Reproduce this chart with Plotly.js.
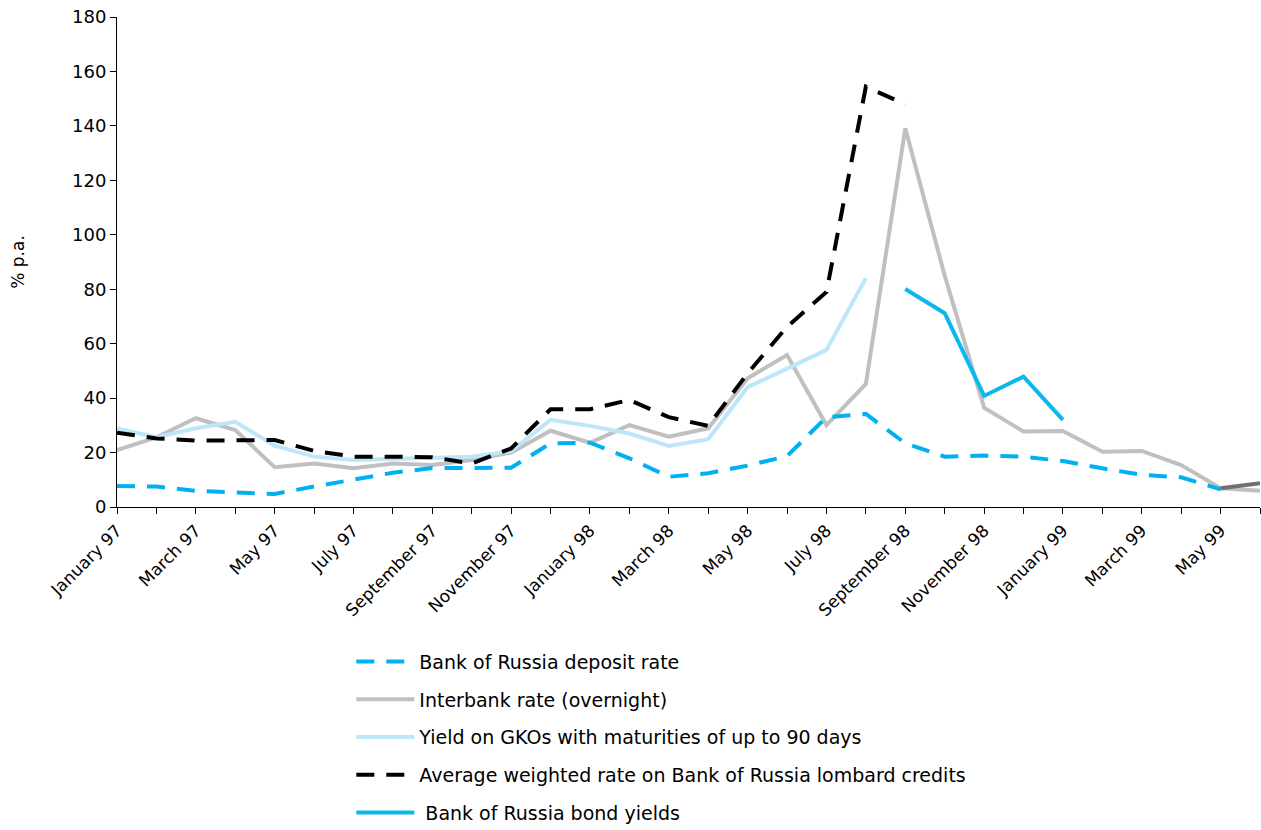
<!DOCTYPE html>
<html>
<head>
<meta charset="utf-8">
<script src="https://cdn.plot.ly/plotly-3.0.1.min.js"></script>
<style>html,body{margin:0;padding:0;background:#fff;}#chart{width:1261px;height:830px;}</style>
</head>
<body>
<div id="chart"></div>
<script>
const months = ["January 97","February 97","March 97","April 97","May 97","June 97","July 97","August 97","September 97","October 97","November 97","December 97",
  "January 98","February 98","March 98","April 98","May 98","June 98","July 98","August 98","September 98","October 98","November 98","December 98",
  "January 99","February 99","March 99","April 99","May 99","June 99"];
const tickLabels = ["January 97","","March 97","","May 97","","July 97","","September 97","","November 97","",
  "January 98","","March 98","","May 98","","July 98","","September 98","","November 98","",
  "January 99","","March 99","","May 99",""];

const depositRate = [7.7,7.5,5.9,5.3,4.8,7.5,9.9,12.6,14.3,14.3,14.4,23.4,
  23.6,17.9,11.1,12.4,15.2,18.7,33.0,34.2,23.4,18.5,18.9,18.5,
  16.9,14.2,11.8,10.9,6.5,null];
const interbankRate = [20.9,25.6,32.6,28.3,14.6,16.0,14.2,16.0,15.4,17.3,20.0,28.0,
  23.6,30.1,25.8,28.9,47.3,55.8,30.1,45.2,139.1,85.0,36.5,27.7,
  27.9,20.3,20.6,15.4,6.9,6.0];
const gkoYield = [28.9,25.6,28.9,31.3,22.5,18.5,17.3,17.6,18.0,18.5,20.5,32.0,
  29.8,27.0,22.4,24.9,44.0,51.0,57.7,84.0,null,null,null,null,
  null,null,null,null,null,null];
const lombardRate = [27.3,25.2,24.4,24.4,24.6,20.6,18.5,18.5,18.3,16.0,21.5,35.9,
  35.9,39.3,33.0,29.8,49.1,66.2,79.0,154.4,147.9,null,null,null,
  null,null,null,null,null,null];
const bondYields = [null,null,null,null,null,null,null,null,null,null,null,null,
  null,null,null,null,null,null,null,null,80.1,71.2,40.8,47.9,
  32.0,null,null,null,null,null];
const otherRate = [null,null,null,null,null,null,null,null,null,null,null,null,
  null,null,null,null,null,null,null,null,null,null,null,null,
  null,null,null,null,6.9,8.7];

const names = ["Bank of Russia deposit rate","Interbank rate (overnight)","Yield on GKOs with maturities of up to 90 days",
  "Average weighted rate on Bank of Russia lombard credits"," Bank of Russia bond yields"];

function tr(y, name, color, dash, rank, show) {
  return {x: months, y: y, name: name, type: 'scatter', mode: 'lines',
    line: {color: color, width: 4, dash: dash}, legendrank: rank, legendgroup: 'g' + rank,
    showlegend: show !== false, connectgaps: false, hoverinfo: 'skip'};
}

const data = [
  tr(interbankRate, names[1], '#c0c0c0', 'solid', 2),
  tr(gkoYield, names[2], '#bde6f8', 'solid', 3),
  tr(otherRate, 'other', '#707070', 'solid', 6, false),
  tr(lombardRate, names[3], '#000000', '18px,12px', 4),
  tr(depositRate, names[0], '#00b0f0', '18px,12px', 1),
  tr(bondYields, names[4], '#0ab8ee', 'solid', 5)
];

const layout = {
  width: 1261, height: 830,
  margin: {l: 117, r: 1, t: 17, b: 323, autoexpand: false},
  paper_bgcolor: '#ffffff', plot_bgcolor: '#ffffff',
  font: {family: 'DejaVu Sans, Liberation Sans, sans-serif', size: 17, color: '#000000'},
  showlegend: true,
  legend: {x: 0.205, y: -0.277, xanchor: 'left', yanchor: 'top', orientation: 'v',
    font: {size: 19}, tracegroupgap: 10, itemwidth: 58, bgcolor: 'rgba(0,0,0,0)'},
  xaxis: {type: 'category', range: [0, 29], tickmode: 'array', tickvals: months, ticktext: tickLabels,
    tickangle: -45, ticks: 'outside', ticklen: 6, tickcolor: '#000', showline: true, linecolor: '#000',
    linewidth: 1, showgrid: false, zeroline: false, tickfont: {size: 17}, automargin: false},
  yaxis: {range: [0, 180], dtick: 20, ticks: 'outside', ticklen: 6, tickcolor: '#000', showline: true,
    linecolor: '#000', linewidth: 1, showgrid: false, zeroline: false, tickfont: {size: 18},
    title: {text: '% p.a.', font: {size: 17}, standoff: 43}, automargin: false}
};

Plotly.newPlot('chart', data, layout, {displayModeBar: false, staticPlot: true});
</script>
</body>
</html>
